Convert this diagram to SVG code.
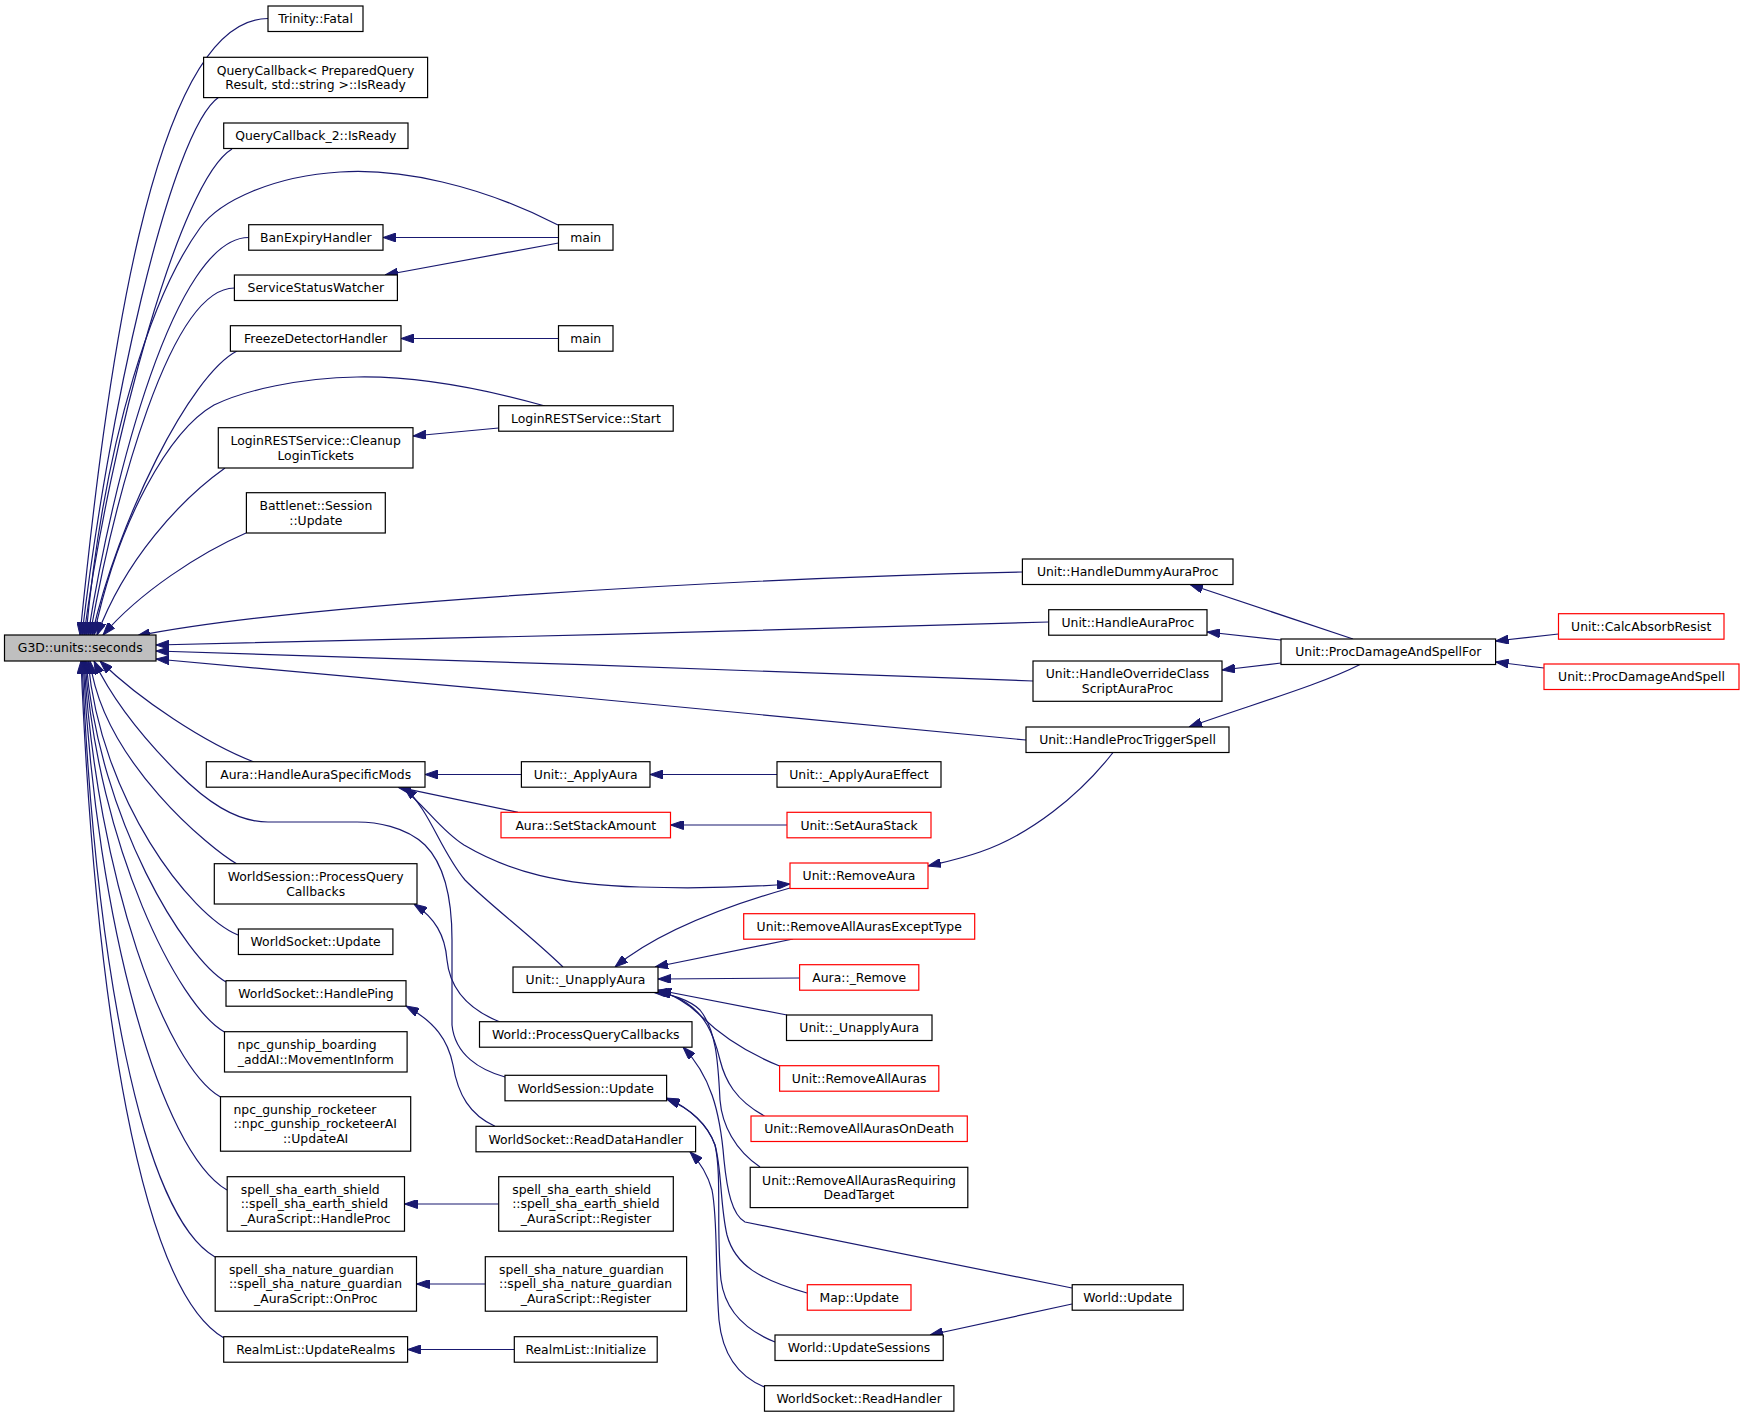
<svg xmlns="http://www.w3.org/2000/svg" width="1744" height="1417" viewBox="0 0 1744 1417">
<defs>
<marker id="a" markerWidth="13" markerHeight="9" refX="13" refY="4.5" orient="auto" markerUnits="userSpaceOnUse"><path d="M0,0 L13,4.5 L0,9 z" fill="#191970" stroke="#191970" stroke-width="1"/></marker>
<style>
.n rect{fill:#fff;stroke:#000;stroke-width:1.2}
.r rect{stroke:#ff0000}
.root rect{fill:#bfbfbf}
text{font-family:"DejaVu Sans","Liberation Sans",sans-serif;font-size:12.4px;fill:#000}
.m{text-anchor:middle}
#edges path{fill:none;stroke:#191970;stroke-width:1.2;marker-end:url(#a)}
</style>
</defs>
<rect width="1744" height="1417" fill="#fff"/>
<g id="edges">
<path d="M268,18.5 C150,18.5 105,389 80,635"/>
<path d="M219,97 C170,130 107,420 82,635"/>
<path d="M232,149 C180,180 110,440 84,635"/>
<path d="M558,225 C480,185 400,168 340,172 C275,176 220,200 200,228 C155,290 105,430 86,635"/>
<path d="M248.7,237.5 C175,237.5 113,476 88,635"/>
<path d="M234.4,288 C170,288 115,496 90,635"/>
<path d="M237,351 C190,375 118,520 92,635"/>
<path d="M545,406 C470,385 410,376 357,377 C300,378 245,390 214,405 C170,430 118,520 94,635"/>
<path d="M225,468 C180,500 125,560 97,635"/>
<path d="M246,533 C200,553 140,592 103,635"/>
<path d="M1022.4,572 C750,578 300,603 137,636"/>
<path d="M1048.7,622 C800,629 400,641 156,645"/>
<path d="M1033,681 C800,672 400,658 156,651"/>
<path d="M1026,740 C800,718 400,680 156,659"/>
<path d="M254,762 C205,743 140,700 100,661"/>
<path d="M505,1077 C480,1070 455,1055 452,1025 L452,940 C452,900 445,865 425,845 C405,826 375,822 357,822 L268,822 C235,822 205,800 178,773 C150,745 115,705 94,661"/>
<path d="M237,864 C212,850 103,762 90,661"/>
<path d="M238,935 C190,915 101,800 88,661"/>
<path d="M226,982 C186,959 99,821 86,661"/>
<path d="M224.5,1032 C178,1006 98,846 85,661"/>
<path d="M220.5,1097 C166,1066 97,879 84,661"/>
<path d="M227,1190 C161,1152 96,925 83,661"/>
<path d="M215,1257 C141,1215 95,959 82,661"/>
<path d="M224,1338 C140,1290 95,1000 81,661"/>
<path d="M558.5,237.5 L383,237.5"/>
<path d="M558.5,243 L385,275"/>
<path d="M558.5,338.5 L401,338.5"/>
<path d="M498.7,428 L413,436"/>
<path d="M1353,639 L1190,584.5"/>
<path d="M1281,640 L1207,632"/>
<path d="M1281,663 L1222,670"/>
<path d="M1360,664.5 C1320,685 1250,705 1189,727"/>
<path d="M1558.5,634 L1495.6,641"/>
<path d="M1544,668 L1495.6,662"/>
<path d="M521.4,774.5 L425,774.5"/>
<path d="M777,774.5 L650,774.5"/>
<path d="M518,812.3 L398,787.2"/>
<path d="M787,825 L670.5,825"/>
<path d="M402,788 C425,805 440,830 464,845 C510,872 560,885 640,887 C700,889 750,887 790,884"/>
<path d="M563,967 C530,935 490,905 465,880 C440,850 430,810 404,787.2"/>
<path d="M790,888 C730,905 660,930 615,967"/>
<path d="M1113,752.5 C1080,795 1030,835 980,852 C960,859 945,862 928,866"/>
<path d="M793,939 L655,967"/>
<path d="M799.6,978 L658,979"/>
<path d="M787,1015 L658,990"/>
<path d="M779.6,1066 C740,1050 715,1030 700,1015 C688,1003 672,994 658,991"/>
<path d="M764.5,1116 C735,1100 725,1080 720,1060 C714,1035 705,1012 680,999 C672,995 665,993 656,992.5"/>
<path d="M760,1167 C735,1150 722,1125 720,1100 C718,1060 716,1030 700,1010 C690,1000 668,993 654,992.5"/>
<path d="M500,1022 C470,1010 450,990 447,960 C445,935 435,918 414,904"/>
<path d="M495,1126.3 C470,1115 458,1095 453,1065 C448,1040 435,1022 406,1006"/>
<path d="M1072,1288 L745,1222 C732,1215 727,1190 724,1160 C720,1110 710,1075 683,1047.2"/>
<path d="M1072,1304 L930,1335"/>
<path d="M807,1293 C760,1280 735,1265 727,1235 C720,1205 722,1170 715,1145 C708,1125 690,1108 666.6,1098"/>
<path d="M775,1342 C745,1330 725,1310 721,1280 C716,1230 722,1175 715,1145 C708,1125 690,1108 666.6,1099"/>
<path d="M764.5,1387 C735,1375 722,1350 719,1320 C715,1270 718,1220 712,1190 C707,1172 698,1160 690,1151.8"/>
<path d="M498.7,1204 L404.5,1204"/>
<path d="M485.3,1284 L416.5,1284"/>
<path d="M514.3,1349.5 L407.6,1349.5"/>
</g>
<g id="n_g3d" class="n root"><rect x="4.5" y="635" width="151.5" height="26"/><text class="m" x="80.25" y="652.4">G3D::units::seconds</text></g>
<g id="n_fatal" class="n"><rect x="268" y="6" width="95" height="25.5"/><text class="m" x="315.5" y="23.2">Trinity::Fatal</text></g>
<g id="n_qc" class="n"><rect x="203.6" y="57.3" width="224" height="40.3"/><text class="m" x="315.6" y="74.5">QueryCallback&lt; PreparedQuery</text><text class="m" x="315.6" y="89.2">Result, std::string &gt;::IsReady</text></g>
<g id="n_qc2" class="n"><rect x="223.7" y="123" width="184.3" height="25.5"/><text class="m" x="315.85" y="140.2">QueryCallback_2::IsReady</text></g>
<g id="n_ban" class="n"><rect x="248.7" y="224.7" width="134.3" height="25.5"/><text class="m" x="315.85" y="241.9">BanExpiryHandler</text></g>
<g id="n_ssw" class="n"><rect x="234.4" y="275" width="163" height="25.5"/><text class="m" x="315.9" y="292.2">ServiceStatusWatcher</text></g>
<g id="n_freeze" class="n"><rect x="230.4" y="325.7" width="170.6" height="25.5"/><text class="m" x="315.7" y="342.9">FreezeDetectorHandler</text></g>
<g id="n_main1" class="n"><rect x="558.5" y="224.7" width="54.5" height="25.5"/><text class="m" x="585.75" y="241.9">main</text></g>
<g id="n_main2" class="n"><rect x="558.5" y="325.7" width="54.5" height="25.5"/><text class="m" x="585.75" y="342.9">main</text></g>
<g id="n_lstart" class="n"><rect x="498.7" y="405.7" width="174.5" height="25.5"/><text class="m" x="585.95" y="422.9">LoginRESTService::Start</text></g>
<g id="n_lclean" class="n"><rect x="218.3" y="427.7" width="194.7" height="40.3"/><text class="m" x="315.65" y="444.95">LoginRESTService::Cleanup</text><text class="m" x="315.65" y="459.55">LoginTickets</text></g>
<g id="n_bnet" class="n"><rect x="246.4" y="492.7" width="138.9" height="40.3"/><text class="m" x="315.85" y="509.95">Battlenet::Session</text><text class="m" x="315.85" y="524.55">::Update</text></g>
<g id="n_hdap" class="n"><rect x="1022.4" y="559" width="210.6" height="25.5"/><text class="m" x="1127.7" y="576.2">Unit::HandleDummyAuraProc</text></g>
<g id="n_hap" class="n"><rect x="1048.7" y="609.7" width="158.3" height="25.5"/><text class="m" x="1127.85" y="626.9">Unit::HandleAuraProc</text></g>
<g id="n_hoc" class="n"><rect x="1033" y="661" width="189" height="40.3"/><text class="m" x="1127.5" y="678.25">Unit::HandleOverrideClass</text><text class="m" x="1127.5" y="692.85">ScriptAuraProc</text></g>
<g id="n_hpts" class="n"><rect x="1026" y="727" width="203" height="25.5"/><text class="m" x="1127.5" y="744.2">Unit::HandleProcTriggerSpell</text></g>
<g id="n_pdasf" class="n"><rect x="1281" y="639" width="214.6" height="25.5"/><text class="m" x="1388.3" y="656.2">Unit::ProcDamageAndSpellFor</text></g>
<g id="n_car" class="n r"><rect x="1558.5" y="613.7" width="165.5" height="25.5"/><text class="m" x="1641.25" y="630.9">Unit::CalcAbsorbResist</text></g>
<g id="n_pdas" class="n r"><rect x="1544" y="664" width="195" height="25.5"/><text class="m" x="1641.5" y="681.2">Unit::ProcDamageAndSpell</text></g>
<g id="n_hasm" class="n"><rect x="206.3" y="761.7" width="218.7" height="25.5"/><text class="m" x="315.65" y="778.9">Aura::HandleAuraSpecificMods</text></g>
<g id="n_apply" class="n"><rect x="521.4" y="761.7" width="128.6" height="25.5"/><text class="m" x="585.7" y="778.9">Unit::_ApplyAura</text></g>
<g id="n_applyeff" class="n"><rect x="777" y="761.7" width="164" height="25.5"/><text class="m" x="859" y="778.9">Unit::_ApplyAuraEffect</text></g>
<g id="n_ssa" class="n r"><rect x="501" y="812.3" width="169.5" height="25.5"/><text class="m" x="585.75" y="829.5">Aura::SetStackAmount</text></g>
<g id="n_sas" class="n r"><rect x="787" y="812.3" width="144" height="25.5"/><text class="m" x="859" y="829.5">Unit::SetAuraStack</text></g>
<g id="n_ra" class="n r"><rect x="790" y="863" width="138" height="25.5"/><text class="m" x="859" y="880.2">Unit::RemoveAura</text></g>
<g id="n_wspqc" class="n"><rect x="214.3" y="863.7" width="202.7" height="40.3"/><text class="m" x="315.65" y="880.95">WorldSession::ProcessQuery</text><text class="m" x="315.65" y="895.55">Callbacks</text></g>
<g id="n_raaet" class="n r"><rect x="743.7" y="913.7" width="231" height="25.5"/><text class="m" x="859.2" y="930.9">Unit::RemoveAllAurasExceptType</text></g>
<g id="n_wsu" class="n"><rect x="238.4" y="929" width="154.5" height="25.5"/><text class="m" x="315.65" y="946.2">WorldSocket::Update</text></g>
<g id="n_arem" class="n r"><rect x="799.6" y="964.7" width="119.2" height="25.5"/><text class="m" x="859.2" y="981.9">Aura::_Remove</text></g>
<g id="n_unapply" class="n"><rect x="513" y="967" width="145" height="25.5"/><text class="m" x="585.5" y="984.2">Unit::_UnapplyAura</text></g>
<g id="n_ping" class="n"><rect x="226" y="980.7" width="180" height="25.5"/><text class="m" x="316" y="997.9">WorldSocket::HandlePing</text></g>
<g id="n_unapply2" class="n"><rect x="786.5" y="1015" width="145.5" height="25.5"/><text class="m" x="859.25" y="1032.2">Unit::_UnapplyAura</text></g>
<g id="n_wpqc" class="n"><rect x="479.5" y="1021.7" width="212.5" height="25.5"/><text class="m" x="585.75" y="1038.9">World::ProcessQueryCallbacks</text></g>
<g id="n_board" class="n"><rect x="224.5" y="1031.7" width="182.6" height="40.3"/><text x="237.6" y="1048.95">npc_gunship_boarding</text><text class="m" x="315.8" y="1063.55">_addAI::MovementInform</text></g>
<g id="n_raa" class="n r"><rect x="779.6" y="1065.7" width="159.2" height="25.5"/><text class="m" x="859.2" y="1082.9">Unit::RemoveAllAuras</text></g>
<g id="n_wsess" class="n"><rect x="505" y="1075.3" width="161.6" height="25.5"/><text class="m" x="585.8" y="1092.5">WorldSession::Update</text></g>
<g id="n_rocket" class="n"><rect x="220.5" y="1096.7" width="190.2" height="54.5"/><text x="233.5" y="1114.05">npc_gunship_rocketeer</text><text x="233.5" y="1128.35">::npc_gunship_rocketeerAI</text><text class="m" x="315.6" y="1142.65">::UpdateAI</text></g>
<g id="n_raaod" class="n r"><rect x="751" y="1116" width="216.3" height="25.5"/><text class="m" x="859.15" y="1133.2">Unit::RemoveAllAurasOnDeath</text></g>
<g id="n_rdh" class="n"><rect x="476" y="1126.3" width="219.6" height="25.5"/><text class="m" x="585.8" y="1143.5">WorldSocket::ReadDataHandler</text></g>
<g id="n_raardt" class="n"><rect x="750.2" y="1167.3" width="217.6" height="40.3"/><text class="m" x="859" y="1184.55">Unit::RemoveAllAurasRequiring</text><text class="m" x="859" y="1199.15">DeadTarget</text></g>
<g id="n_earth" class="n"><rect x="227.2" y="1176.7" width="177.3" height="54.5"/><text x="240.7" y="1194.05">spell_sha_earth_shield</text><text x="240.7" y="1208.35">::spell_sha_earth_shield</text><text class="m" x="315.85" y="1222.65">_AuraScript::HandleProc</text></g>
<g id="n_earthreg" class="n"><rect x="498.7" y="1176.7" width="174.6" height="54.5"/><text x="512.2" y="1194.05">spell_sha_earth_shield</text><text x="512.2" y="1208.35">::spell_sha_earth_shield</text><text class="m" x="586" y="1222.65">_AuraScript::Register</text></g>
<g id="n_nature" class="n"><rect x="215.2" y="1256.7" width="201.3" height="54.5"/><text x="228.9" y="1274.05">spell_sha_nature_guardian</text><text x="228.9" y="1288.35">::spell_sha_nature_guardian</text><text class="m" x="315.85" y="1302.65">_AuraScript::OnProc</text></g>
<g id="n_naturereg" class="n"><rect x="485.3" y="1256.7" width="201.3" height="54.5"/><text x="499" y="1274.05">spell_sha_nature_guardian</text><text x="499" y="1288.35">::spell_sha_nature_guardian</text><text class="m" x="585.95" y="1302.65">_AuraScript::Register</text></g>
<g id="n_map" class="n r"><rect x="807.3" y="1284.7" width="103.7" height="25.5"/><text class="m" x="859.15" y="1301.9">Map::Update</text></g>
<g id="n_wupd" class="n"><rect x="1072.2" y="1284.7" width="111" height="25.5"/><text class="m" x="1127.7" y="1301.9">World::Update</text></g>
<g id="n_wus" class="n"><rect x="775" y="1335" width="168.2" height="25.5"/><text class="m" x="859.1" y="1352.2">World::UpdateSessions</text></g>
<g id="n_rlur" class="n"><rect x="223.7" y="1336.7" width="183.9" height="25.5"/><text class="m" x="315.65" y="1353.9">RealmList::UpdateRealms</text></g>
<g id="n_rlinit" class="n"><rect x="514.3" y="1336.7" width="142.9" height="25.5"/><text class="m" x="585.75" y="1353.9">RealmList::Initialize</text></g>
<g id="n_rh" class="n"><rect x="764.5" y="1385.7" width="189.4" height="25.5"/><text class="m" x="859.2" y="1402.9">WorldSocket::ReadHandler</text></g>
</svg>
